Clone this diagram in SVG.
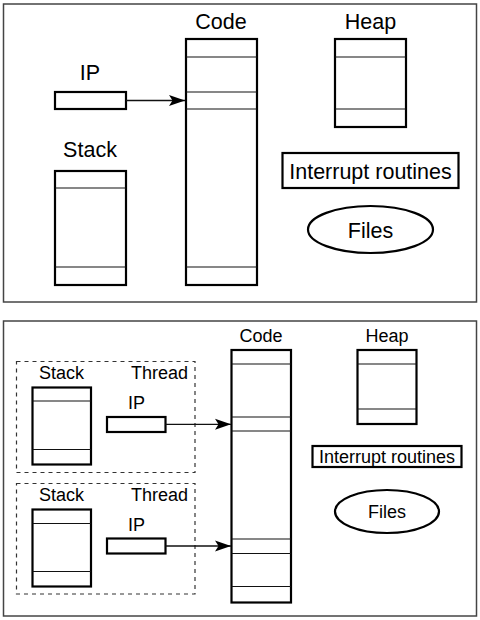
<svg xmlns="http://www.w3.org/2000/svg" width="480" height="620" viewBox="0 0 480 620">
<style>
text{font-family:"Liberation Sans",Arial,sans-serif;fill:#000}
.t1{font-size:21.5px}
.t2{font-size:18px}
.frame{fill:none;stroke:#444;stroke-width:1.5}
.box{fill:#fff;stroke:#000;stroke-width:2.2}
.sep{stroke:#111;stroke-width:1.1}
.dash{fill:none;stroke:#333;stroke-width:1.2;stroke-dasharray:4,4}
.conn{stroke:#111;stroke-width:1.3;fill:none}
</style>
<defs>
<marker id="ah" markerUnits="userSpaceOnUse" markerWidth="18" markerHeight="14" refX="16" refY="7" orient="auto">
<path d="M0,1.5 L16,7 L0,12.5 L3.5,7 Z" fill="#000"/>
</marker>
</defs>
<rect width="480" height="620" fill="#fff"/>

<!-- Top panel -->
<g id="frame-top"><rect class="frame" x="3.5" y="4" width="473" height="298"/></g>
<g id="top-ip">
<text class="t1" x="90" y="80" text-anchor="middle">IP</text>
<rect class="box" x="55" y="92" width="71" height="17"/>
</g>
<g id="top-stack">
<text class="t1" x="90" y="157" text-anchor="middle">Stack</text>
<rect class="box" x="55" y="171" width="71" height="114"/>
<line class="sep" x1="55" y1="188" x2="126" y2="188"/>
<line class="sep" x1="55" y1="267" x2="126" y2="267"/>
</g>
<g id="top-code">
<text class="t1" x="221" y="29" text-anchor="middle">Code</text>
<rect class="box" x="186" y="39" width="71" height="246"/>
<line class="sep" x1="186" y1="57" x2="257" y2="57"/>
<line class="sep" x1="186" y1="92" x2="257" y2="92"/>
<line class="sep" x1="186" y1="109" x2="257" y2="109"/>
<line class="sep" x1="186" y1="267" x2="257" y2="267"/>
</g>
<g id="top-heap">
<text class="t1" x="370.5" y="29" text-anchor="middle">Heap</text>
<rect class="box" x="335" y="39" width="71" height="88"/>
<line class="sep" x1="335" y1="57" x2="406" y2="57"/>
<line class="sep" x1="335" y1="109" x2="406" y2="109"/>
</g>
<g id="top-interrupt">
<rect class="box" x="282.5" y="153" width="176" height="35"/>
<text class="t1" x="370.5" y="179" text-anchor="middle">Interrupt routines</text>
</g>
<g id="top-files">
<ellipse class="box" cx="370.5" cy="229.5" rx="62.5" ry="23.5" stroke-width="1.6"/>
<text class="t1" x="370.5" y="238" text-anchor="middle">Files</text>
</g>

<!-- Bottom panel -->
<g id="frame-bottom"><rect class="frame" x="3.5" y="321" width="473" height="295"/></g>
<g id="thread1">
<rect class="dash" x="16.5" y="361.5" width="178.5" height="111"/>
<text class="t2" x="61.5" y="379" text-anchor="middle">Stack</text>
<text class="t2" x="188" y="379" text-anchor="end">Thread</text>
<rect class="box" x="32.5" y="387.5" width="58.5" height="77"/>
<line class="sep" x1="32.5" y1="401" x2="91" y2="401"/>
<line class="sep" x1="32.5" y1="449.5" x2="91" y2="449.5"/>
<text class="t2" x="136.5" y="409" text-anchor="middle">IP</text>
<rect class="box" x="107" y="417" width="58.5" height="15"/>
</g>
<g id="thread2">
<rect class="dash" x="16.5" y="483.5" width="178.5" height="110.5"/>
<text class="t2" x="61.5" y="501" text-anchor="middle">Stack</text>
<text class="t2" x="188" y="501" text-anchor="end">Thread</text>
<rect class="box" x="32.5" y="509.5" width="58.5" height="77"/>
<line class="sep" x1="32.5" y1="523.5" x2="91" y2="523.5"/>
<line class="sep" x1="32.5" y1="571.5" x2="91" y2="571.5"/>
<text class="t2" x="136.5" y="531" text-anchor="middle">IP</text>
<rect class="box" x="107" y="538.5" width="58.5" height="15"/>
</g>
<g id="bottom-code">
<text class="t2" x="261" y="342" text-anchor="middle">Code</text>
<rect class="box" x="231.5" y="350" width="59.5" height="252.5"/>
<line class="sep" x1="231.5" y1="364" x2="291" y2="364"/>
<line class="sep" x1="231.5" y1="417" x2="291" y2="417"/>
<line class="sep" x1="231.5" y1="431" x2="291" y2="431"/>
<line class="sep" x1="231.5" y1="539" x2="291" y2="539"/>
<line class="sep" x1="231.5" y1="553.5" x2="291" y2="553.5"/>
<line class="sep" x1="231.5" y1="586.5" x2="291" y2="586.5"/>
</g>
<g id="bottom-heap">
<text class="t2" x="387" y="342" text-anchor="middle">Heap</text>
<rect class="box" x="357.5" y="350" width="59" height="74"/>
<line class="sep" x1="357.5" y1="364" x2="416.5" y2="364"/>
<line class="sep" x1="357.5" y1="409" x2="416.5" y2="409"/>
</g>
<g id="bottom-interrupt">
<rect class="box" x="312.5" y="446" width="149" height="21" stroke-width="1.6"/>
<text class="t2" x="387" y="462.5" text-anchor="middle">Interrupt routines</text>
</g>
<g id="bottom-files">
<ellipse class="box" cx="387" cy="511.5" rx="52" ry="21.5" stroke-width="1.4"/>
<text class="t2" x="387" y="518" text-anchor="middle">Files</text>
</g>

<g id="connectors">
<line class="conn" x1="126" y1="100.5" x2="185" y2="100.5" marker-end="url(#ah)"/>
<line class="conn" x1="165.5" y1="424.3" x2="231" y2="424.3" marker-end="url(#ah)"/>
<line class="conn" x1="165.5" y1="546" x2="231" y2="546" marker-end="url(#ah)"/>
</g>
</svg>
